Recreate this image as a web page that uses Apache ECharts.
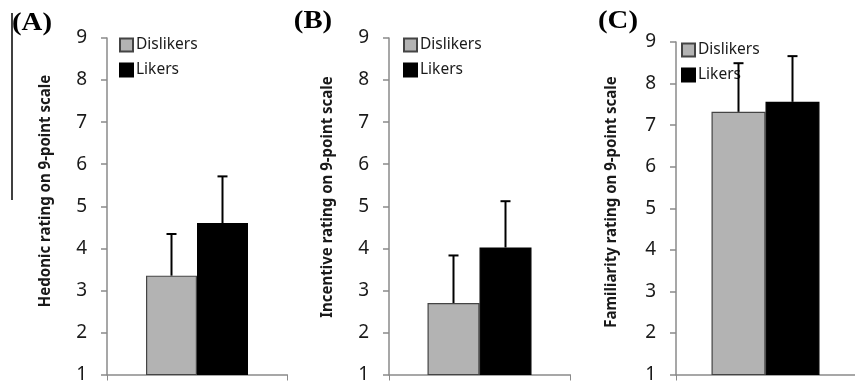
<!DOCTYPE html>
<html>
<head>
<meta charset="utf-8">
<script src="https://cdn.jsdelivr.net/npm/echarts@6/dist/echarts.min.js"></script>
<style>html,body{margin:0;padding:0;background:#fff}#c{width:855px;height:384px}</style>
</head>
<body>
<div id="c"></div>
<script>
const categories = [''];
const seriesNames = ['Dislikers', 'Likers'];
const panelLabels = ['(A)', '(B)', '(C)'];
const yTitles = ['Hedonic rating on 9-point scale', 'Incentive rating on 9-point scale', 'Familiarity rating on 9-point scale'];
const dislikersMean = [3.35, 2.70, 7.32];
const dislikersErr = [0.99, 1.13, 1.17];
const likersMean = [4.60, 4.02, 7.56];
const likersErr = [1.11, 1.10, 1.10];
const yMin = 1, yMax = 9, yStep = 1;

// layout (styles/positions only)
const grids = [
  {left: 107, top: 38, width: 180, height: 341},
  {left: 389, top: 38, width: 181, height: 341},
  {left: 676, top: 42, width: 188, height: 338}
];
const barWidths = [51, 52, 54];
const legendPos = [{left: 119, top: 37}, {left: 403, top: 37}, {left: 681, top: 42}];
const titlePos = [{x: 45, y: 191}, {x: 327, y: 197}, {x: 611, y: 202}];
const labelPos = [{x: 32, y: 24}, {x: 313, y: 22}, {x: 618, y: 22}];

const colors = {Dislikers: '#b3b3b3', Likers: '#000000'};
const borders = {Dislikers: '#444444', Likers: '#000000'};
const axisGray = '#8a8a8a';
const font = 'Noto Sans';

const means = {Dislikers: dislikersMean, Likers: likersMean};
const errs = {Dislikers: dislikersErr, Likers: likersErr};

const option = {
  animation: false,
  backgroundColor: '#fff',
  grid: grids.map(g => Object.assign({containLabel: false}, g)),
  xAxis: grids.map((g, i) => ({
    type: 'category', gridIndex: i, data: categories,
    axisLine: {lineStyle: {color: axisGray, width: 1.5}},
    axisTick: {show: true, lineStyle: {color: axisGray}, length: 6},
    axisLabel: {show: false}
  })),
  yAxis: grids.map((g, i) => ({
    type: 'value', gridIndex: i, min: yMin, max: yMax, interval: yStep,
    axisLine: {show: true, lineStyle: {color: axisGray, width: 1.5}},
    axisTick: {show: true, inside: false, length: 6, lineStyle: {color: axisGray, width: 1.5}},
    splitLine: {show: false},
    axisLabel: {fontFamily: font, fontSize: 19, color: '#1a1a1a', margin: 20}
  })),
  legend: grids.map((g, i) => ({
    data: seriesNames, orient: 'vertical', left: legendPos[i].left, top: legendPos[i].top,
    itemWidth: 13, itemHeight: 13, itemGap: 9, icon: 'rect', padding: 0,
    selectedMode: false,
    textStyle: {fontFamily: font, fontSize: 15.5, color: '#1a1a1a', padding: [0, 0, 0, -2]}
  })),
  graphic: [
    {type: 'line', shape: {x1: 12, y1: 13, x2: 12, y2: 200}, style: {stroke: '#000', lineWidth: 1.5}}
  ].concat(panelLabels.map((t, i) => ({
    type: 'text', x: labelPos[i].x, y: labelPos[i].y, scaleX: 1.15,
    style: {text: t, font: 'bold 25px "Liberation Serif"', fill: '#000', align: 'center', verticalAlign: 'middle'}
  }))).concat(yTitles.map((t, i) => ({
    type: 'text', x: titlePos[i].x, y: titlePos[i].y, rotation: Math.PI / 2, scaleY: 1.1,
    style: {text: t, font: 'bold 15px "Noto Sans"', fill: '#1a1a1a', align: 'center', verticalAlign: 'middle'}
  }))),
  series: []
};

grids.forEach((g, i) => {
  const bw = barWidths[i];
  seriesNames.forEach((name, k) => {
    option.series.push({
      type: 'bar', name: name, xAxisIndex: i, yAxisIndex: i,
      barWidth: bw, barGap: '0%',
      data: [means[name][i]],
      itemStyle: {color: colors[name], borderColor: borders[name], borderWidth: 1.2},
      z: 2
    });
  });
  seriesNames.forEach((name, k) => {
    const sign = k === 0 ? -1 : 1;
    option.series.push({
      type: 'custom', name: name + ' err', xAxisIndex: i, yAxisIndex: i,
      data: [[0, means[name][i], errs[name][i]]],
      z: 5,
      renderItem: function (params, api) {
        const base = api.coord([api.value(0), api.value(1)]);
        const top = api.coord([api.value(0), api.value(1) + api.value(2)]);
        const cx = base[0] + sign * bw / 2;
        const st = {stroke: '#000', lineWidth: 2};
        return {type: 'group', children: [
          {type: 'line', shape: {x1: cx, y1: base[1], x2: cx, y2: top[1]}, style: st},
          {type: 'line', shape: {x1: cx - 5, y1: top[1], x2: cx + 5, y2: top[1]}, style: st}
        ]};
      }
    });
  });
});

const chart = echarts.init(document.getElementById('c'), null, {renderer: 'canvas'});
chart.setOption(option);
</script>
</body>
</html>
